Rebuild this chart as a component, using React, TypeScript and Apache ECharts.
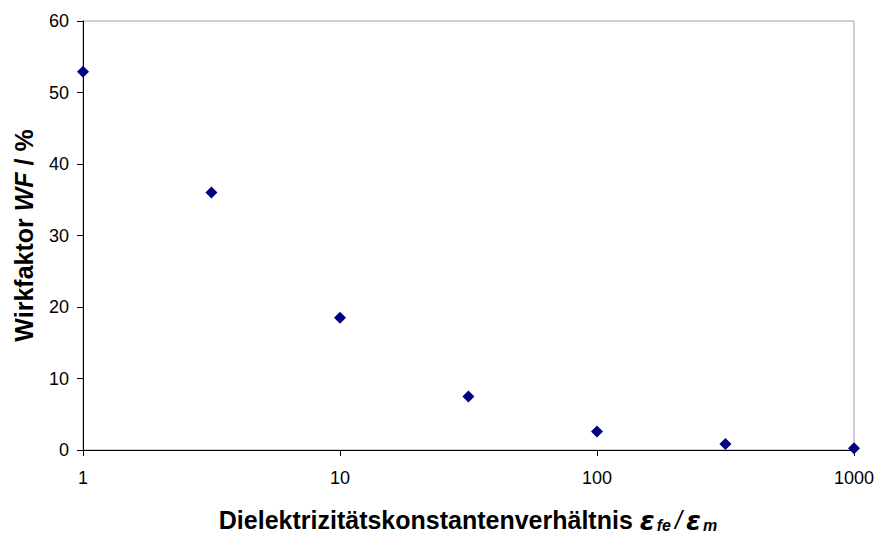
import React, { useEffect, useRef } from "react";
import * as echarts from "echarts";

// Permittivity ratio ε_fe / ε_m (log scale) and the resulting efficiency factor WF in %
const ratios: number[] = [1, 3.16, 10, 31.6, 100, 316, 1000];
const wirkfaktor: number[] = [52.9, 36.0, 18.5, 7.5, 2.6, 0.85, 0.25];

const xTitle = "Dielektrizitätskonstantenverhältnis ";
const yTitleParts = ["Wirkfaktor ", "WF", " / %"];

const FONT = "'Liberation Sans', Arial, sans-serif";
const GREEK = "'DejaVu Sans', 'Liberation Sans', sans-serif";

export default function App() {
  const ref = useRef<HTMLDivElement>(null);

  useEffect(() => {
    document.body.style.margin = "0";
    if (!ref.current) return;
    const chart = echarts.init(ref.current, undefined, { renderer: "svg" });

    const points = ratios.map((r, i) => [r, wirkfaktor[i]]);

    chart.setOption({
      animation: false,
      backgroundColor: "#ffffff",
      grid: {
        left: 83,
        right: 22,
        top: 21,
        bottom: 84,
        outerBoundsMode: "none",
        show: true,
        borderColor: "#a0a0a0",
        borderWidth: 1,
      },
      xAxis: {
        type: "log",
        logBase: 10,
        min: 1,
        max: 1000,
        name: "{b|" + xTitle + "}{e|ε}{s|fe}{sl|/}{e|ε}{s|m}",
        nameLocation: "middle",
        nameGap: 58,
        nameTextStyle: {
          rich: {
            b: { fontFamily: FONT, fontWeight: "bold", fontSize: 25, lineHeight: 24, color: "#000" },
            e: {
              fontFamily: GREEK,
              fontWeight: "bold",
              fontStyle: "italic",
              fontSize: 27,
              lineHeight: 24,
              color: "#000",
            },
            sl: {
              fontFamily: FONT,
              fontWeight: "normal",
              fontStyle: "italic",
              fontSize: 25,
              lineHeight: 24,
              color: "#000",
              padding: [0, 4, 0, 3],
            },
            s: {
              fontFamily: FONT,
              fontWeight: "bold",
              fontStyle: "italic",
              fontSize: 16,
              lineHeight: 14,
              color: "#000",
              padding: [10, 1, 0, 2],
            },
          },
        },
        axisLine: { show: true, lineStyle: { color: "#000", width: 1 } },
        axisTick: { show: true, length: 6, inside: false, lineStyle: { color: "#000" } },
        minorTick: { show: false },
        splitLine: { show: false },
        axisLabel: {
          fontFamily: FONT,
          fontSize: 18,
          color: "#000",
          margin: 19,
          formatter: (v: number) => String(Math.round(v)),
        },
      },
      yAxis: {
        type: "value",
        min: 0,
        max: 60,
        interval: 10,
        name: "{b|" + yTitleParts[0] + "}{i|" + yTitleParts[1] + "}{b|" + yTitleParts[2] + "}",
        nameLocation: "middle",
        nameGap: 47,
        nameRotate: 90,
        nameTextStyle: {
          rich: {
            b: { fontFamily: FONT, fontWeight: "bold", fontSize: 25, color: "#000" },
            i: { fontFamily: FONT, fontWeight: "bold", fontStyle: "italic", fontSize: 25, color: "#000" },
          },
        },
        axisLine: { show: true, lineStyle: { color: "#000", width: 1 } },
        axisTick: { show: true, length: 6, inside: false, lineStyle: { color: "#000" } },
        splitLine: { show: false },
        axisLabel: {
          fontFamily: FONT,
          fontSize: 18,
          color: "#000",
          margin: 14,
        },
      },
      series: [
        {
          type: "scatter",
          data: points,
          symbol: "diamond",
          symbolSize: 12,
          itemStyle: { color: "#000080", opacity: 1 },
          clip: false,
        },
      ],
    });

    return () => chart.dispose();
  }, []);

  return <div ref={ref} style={{ width: 876, height: 534 }} />;
}
